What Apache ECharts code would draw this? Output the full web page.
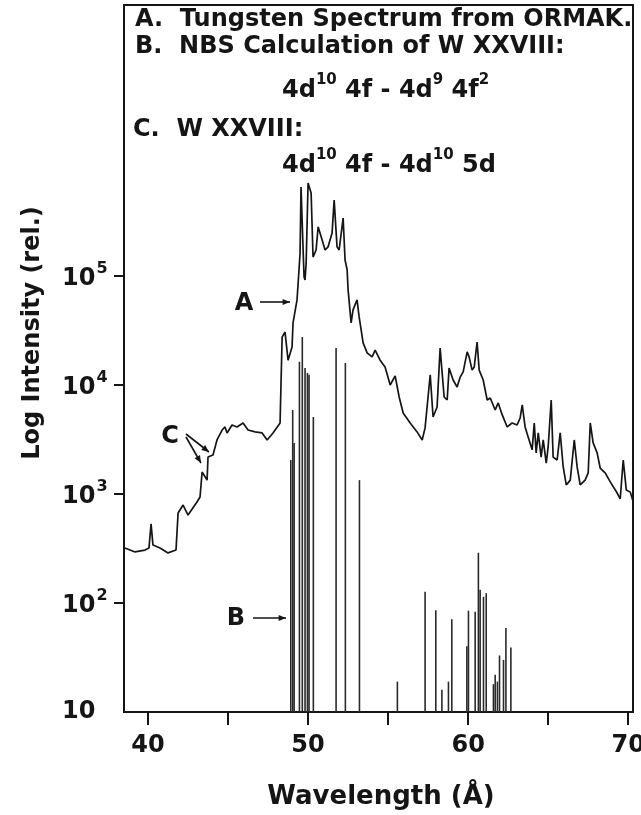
<!DOCTYPE html>
<html><head><meta charset="utf-8">
<script src="https://cdn.jsdelivr.net/npm/echarts@6/dist/echarts.min.js"></script>
<style>html,body{margin:0;padding:0;background:#fff}#c{width:641px;height:815px}</style>
</head><body><div id="c"></div>
<script>
// A. measured tungsten spectrum (wavelength in Å, relative intensity)
const specWavelength = [38.56,39.19,39.81,40.06,40.19,40.31,40.75,41.25,41.75,41.88,42.19,42.50,43.06,43.25,43.38,43.69,43.75,44.06,44.31,44.63,44.81,44.94,45.25,45.56,45.94,46.25,46.69,47.13,47.44,47.81,48.25,48.38,48.56,48.75,49.00,49.06,49.31,49.38,49.50,49.56,49.69,49.75,49.81,49.88,50.00,50.19,50.31,50.50,50.63,50.88,51.06,51.25,51.50,51.63,51.81,51.94,52.19,52.31,52.44,52.50,52.69,52.81,53.06,53.19,53.44,53.69,54.00,54.19,54.50,54.81,55.13,55.44,55.69,55.94,56.38,56.81,57.13,57.31,57.63,57.81,58.06,58.25,58.50,58.69,58.81,59.06,59.31,59.50,59.69,59.94,60.06,60.25,60.38,60.56,60.69,60.94,61.19,61.38,61.69,61.88,62.13,62.44,62.75,63.06,63.25,63.38,63.56,63.75,64.00,64.13,64.25,64.38,64.56,64.69,64.88,65.00,65.19,65.31,65.56,65.75,65.94,66.13,66.38,66.63,66.81,67.00,67.31,67.50,67.63,67.81,68.06,68.25,68.56,68.88,69.31,69.50,69.69,69.88,70.13,70.28];
const specIntensity = [320,294,306,320,531,340,320,288,306,670,792,641,845,938,1590,1340,2180,2280,3130,3860,4120,3630,4300,4120,4480,3860,3710,3630,3130,3630,4480,27500,30600,16900,22300,37100,60300,86300,162000,656000,173000,97900,91900,132000,713000,577000,149000,173000,282000,214000,173000,185000,248000,498000,185000,173000,340000,140000,114000,74500,37100,48800,60300,42100,24300,19700,18100,20900,16900,14600,10000,12100,7760,5530,4480,3710,3130,4040,12400,5080,6280,21800,7760,7280,14300,11100,9590,11800,13200,20100,18100,13700,14600,24800,13700,11100,7280,7600,5900,6840,5310,4120,4480,4300,4980,6560,4120,3330,2540,4480,2380,3630,2180,3130,1920,2700,7280,2180,2050,3630,1770,1210,1340,3130,1770,1210,1340,1560,4480,2940,2380,1730,1560,1290,1020,900,2050,1090,1040,881];
// B. NBS calculated lines
const calcWavelength = [48.92,49.04,49.13,49.46,49.64,49.81,49.96,50.06,50.33,51.75,52.33,53.21,55.58,57.31,57.98,58.36,58.77,58.98,59.92,60.02,60.44,60.64,60.75,60.96,61.13,61.58,61.69,61.83,61.96,62.21,62.36,62.67];
const calcIntensity = [2050,5900,2940,16300,27500,14300,12900,12400,5080,21800,15900,1340,19,127,86,16,19,71,40,85,83,289,132,114,123,18,22,19,33,30,59,39];
// axis ticks / labels
const xTickValues = [40,45,50,55,60,65,70];
const xLabelValues = [40,50,60,70];
const yTickValues = [10,100,1000,10000,100000];

const FONT = '"DejaVu Sans", "Liberation Sans", sans-serif';
const INK = '#151515';

const chart = echarts.init(document.getElementById('c'), null, {renderer: 'canvas'});

const specData = specWavelength.map((w, i) => [w, specIntensity[i]]);
const calcData = calcWavelength.map((w, i) => [w, calcIntensity[i]]);

function arrowHead(x, y, ang, size) {
  const a1 = ang + Math.PI - 0.4, a2 = ang + Math.PI + 0.4;
  return {type: 'polygon', silent: true, shape: {points: [[x, y], [x + size * Math.cos(a1), y + size * Math.sin(a1)], [x + size * Math.cos(a2), y + size * Math.sin(a2)]]}, style: {fill: INK}};
}
function arrow(x1, y1, x2, y2) {
  const ang = Math.atan2(y2 - y1, x2 - x1);
  return [
    {type: 'line', silent: true, shape: {x1, y1, x2, y2}, style: {stroke: INK, lineWidth: 1.6}},
    arrowHead(x2, y2, ang, 8)
  ];
}
function txt(text, x, y, size, align) {
  align = align || 'left';
  return {type: 'text', silent: true, x, y, style: {text, fill: INK, font: 'bold ' + size + 'px ' + FONT, fontFamily: FONT, fontWeight: 'bold', fontSize: size, align: align, textAlign: align, verticalAlign: 'middle', textVerticalAlign: 'middle'}};
}
const supRich = {
  n: {fontFamily: FONT, fontWeight: 'bold', fontSize: 24, fill: INK, color: INK, verticalAlign: 'bottom', lineHeight: 30},
  s: {fontFamily: FONT, fontWeight: 'bold', fontSize: 15, fill: INK, color: INK, verticalAlign: 'top', lineHeight: 15}
};
function richTxt(text, x, y) {
  const t = txt(text, x, y, 24);
  t.style.rich = supRich;
  return t;
}

const graphics = [
  txt('A.  Tungsten Spectrum from ORMAK.', 135, 20, 24),
  txt('B.  NBS Calculation of W XXVIII:', 135, 47, 24),
  richTxt('{n|4d}{s|10}{n| 4f - 4d}{s|9}{n| 4f}{s|2}', 282, 88),
  txt('C.  W XXVIII:', 133, 130, 24),
  richTxt('{n|4d}{s|10}{n| 4f - 4d}{s|10}{n| 5d}', 282, 163),
  txt('A', 244, 304, 24, 'center'),
  txt('B', 236, 619, 24, 'center'),
  txt('C', 170, 437, 24, 'center'),
  ...arrow(260, 302, 290, 302),
  ...arrow(253, 618, 286, 618),
  ...arrow(186, 434, 209, 452),
  ...arrow(186, 437, 201, 463),
  {type: 'text', silent: true, x: 33, y: 333, rotation: Math.PI / 2,
   style: {text: 'Log Intensity (rel.)', fill: INK, font: 'bold 24px ' + FONT, fontSize: 24, fontWeight: 'bold', fontFamily: FONT, align: 'center', textAlign: 'center', verticalAlign: 'middle', textVerticalAlign: 'middle'}},
  {type: 'text', silent: true, x: 381, y: 797,
   style: {text: 'Wavelength (Å)', fill: INK, font: 'bold 26px ' + FONT, fontSize: 26, fontWeight: 'bold', fontFamily: FONT, align: 'center', textAlign: 'center', verticalAlign: 'middle', textVerticalAlign: 'middle'}}
];

const option = {
  animation: false,
  backgroundColor: '#ffffff',
  grid: {left: 124, right: 8, top: 5, bottom: 103, show: true, borderColor: INK, borderWidth: 2, backgroundColor: 'transparent', containLabel: false, outerBoundsMode: 'none'},
  xAxis: {
    type: 'value', min: 38.5, max: 70.3,
    axisLine: {show: true, lineStyle: {color: INK, width: 2}},
    axisTick: {show: true, inside: false, length: 13, customValues: xTickValues, lineStyle: {color: INK, width: 2}},
    axisLabel: {show: true, customValues: xLabelValues, margin: 22, color: INK, fontFamily: FONT, fontWeight: 'bold', fontSize: 24},
    splitLine: {show: false}
  },
  yAxis: {
    type: 'log', logBase: 10, min: 10, max: 30600000,
    axisLine: {show: true, lineStyle: {color: INK, width: 2}},
    axisTick: {show: true, inside: false, length: 10, customValues: yTickValues.slice(1), lineStyle: {color: INK, width: 2}},
    axisLabel: {
      show: true, customValues: yTickValues, margin: 62, align: 'left',
      formatter: function (v) {
        const e = Math.round(Math.log10(v));
        return e === 1 ? '{c|10}' : '{b|10}{s|' + e + '}';
      },
      rich: {
        b: {fontFamily: FONT, fontWeight: 'bold', fontSize: 24, color: INK, verticalAlign: 'bottom', lineHeight: 30},
        c: {fontFamily: FONT, fontWeight: 'bold', fontSize: 24, color: INK, lineHeight: 24},
        s: {fontFamily: FONT, fontWeight: 'bold', fontSize: 16, color: INK, verticalAlign: 'top', lineHeight: 16, padding: [0, 0, 0, 1]}
      }
    },
    splitLine: {show: false}, minorTick: {show: false}
  },
  series: [
    {
      type: 'custom', name: 'B', data: calcData, z: 2,
      renderItem: function (params, api) {
        const x = api.value(0), v = api.value(1);
        const p0 = api.coord([x, 10]);
        const p1 = api.coord([x, v]);
        return {type: 'line', shape: {x1: p0[0], y1: p0[1], x2: p1[0], y2: p1[1]}, style: {stroke: '#2a2a2a', lineWidth: 1.6}};
      }
    },
    {
      type: 'line', name: 'A', data: specData, showSymbol: false, symbol: 'none', z: 3,
      lineStyle: {color: INK, width: 1.7}
    }
  ],
  graphic: graphics
};
chart.setOption(option);
</script>
</body></html>
